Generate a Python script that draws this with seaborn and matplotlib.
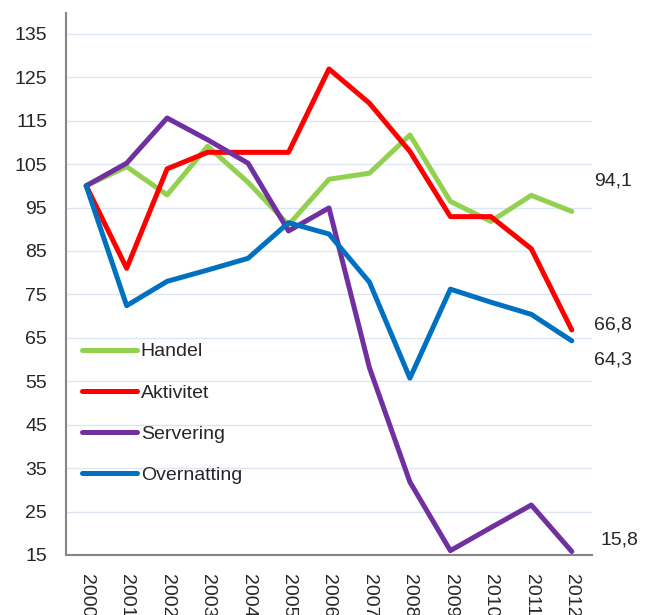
import pandas as pd
import matplotlib
matplotlib.use("Agg")
import matplotlib.pyplot as plt
import seaborn as sns

years = list(range(2000, 2013))
handel = [100, 104.4, 97.9, 109.1, 100.8, 91.0, 101.5, 102.9, 111.7, 96.4, 91.8, 97.8, 94.1]
aktivitet = [100, 81.0, 103.9, 107.7, 107.7, 107.7, 126.9, 119.0, 107.9, 92.9, 92.9, 85.5, 66.8]
servering = [100, 105.2, 115.6, 110.6, 105.2, 89.6, 94.9, 58.1, 31.8, 16.0, 21.3, 26.5, 15.8]
overnatting = [100, 72.4, 78.0, 80.6, 83.3, 91.5, 88.9, 77.8, 55.7, 76.2, 73.2, 70.4, 64.3]

series = ["Handel", "Aktivitet", "Servering", "Overnatting"]
colors = ["#92D050", "#FF0000", "#7030A0", "#0070C0"]

# end labels shown to the right of the last point
end_labels = ["94,1", "66,8", "64,3", "15,8"]

df = pd.DataFrame({
    "year": years * 4,
    "value": handel + aktivitet + servering + overnatting,
    "series": sum([[s] * len(years) for s in series], []),
})

sns.set_style("white")
plt.rcParams["font.family"] = ["Liberation Sans", "DejaVu Sans"]

fig = plt.figure(figsize=(6.53, 6.15), dpi=100)
ax = fig.add_axes([0.101, 0.0976, 0.8056, 0.8814])

sns.lineplot(data=df, x="year", y="value", hue="series", hue_order=series,
             palette=colors, linewidth=3.6, ax=ax, legend=False)

ax.set_xlim(1999.5, 2012.5)
ax.set_ylim(15, 139.8)
ax.set_yticks(range(15, 136, 10))
ax.set_xticks(years)
ax.set_xticklabels([str(y) for y in years], rotation=-90, va="top", fontsize=14)
ax.tick_params(axis="y", labelsize=14, length=4.5, color="#868686", width=1, pad=9)
ax.tick_params(axis="x", length=0, pad=14)
ax.set_xlabel("")
ax.set_ylabel("")

ax.yaxis.grid(True, color="#DCE6F2", linewidth=1)
ax.set_axisbelow(True)
for side in ["top", "right"]:
    ax.spines[side].set_visible(False)
for side in ["left", "bottom"]:
    ax.spines[side].set_color("#868686")
    ax.spines[side].set_linewidth(1.5)

# end value labels
label_y = {"94,1": 101.1, "66,8": 68.0, "64,3": 59.9, "15,8": 18.5}
label_x = {"94,1": 2012.55, "66,8": 2012.55, "64,3": 2012.55, "15,8": 2012.72}
for lab in end_labels:
    ax.text(label_x[lab], label_y[lab], lab, fontsize=14, va="center", ha="left",
            clip_on=False)

handles = [plt.Line2D([], [], color=c, linewidth=3.6) for c in colors]
ax.legend(handles, series, loc="upper left", bbox_to_anchor=(0.0, 0.4207),
          frameon=False, fontsize=14, handlelength=2.83, handletextpad=0.2,
          labelspacing=1.21, borderaxespad=0.42)

fig.savefig("out.png", dpi=100)
